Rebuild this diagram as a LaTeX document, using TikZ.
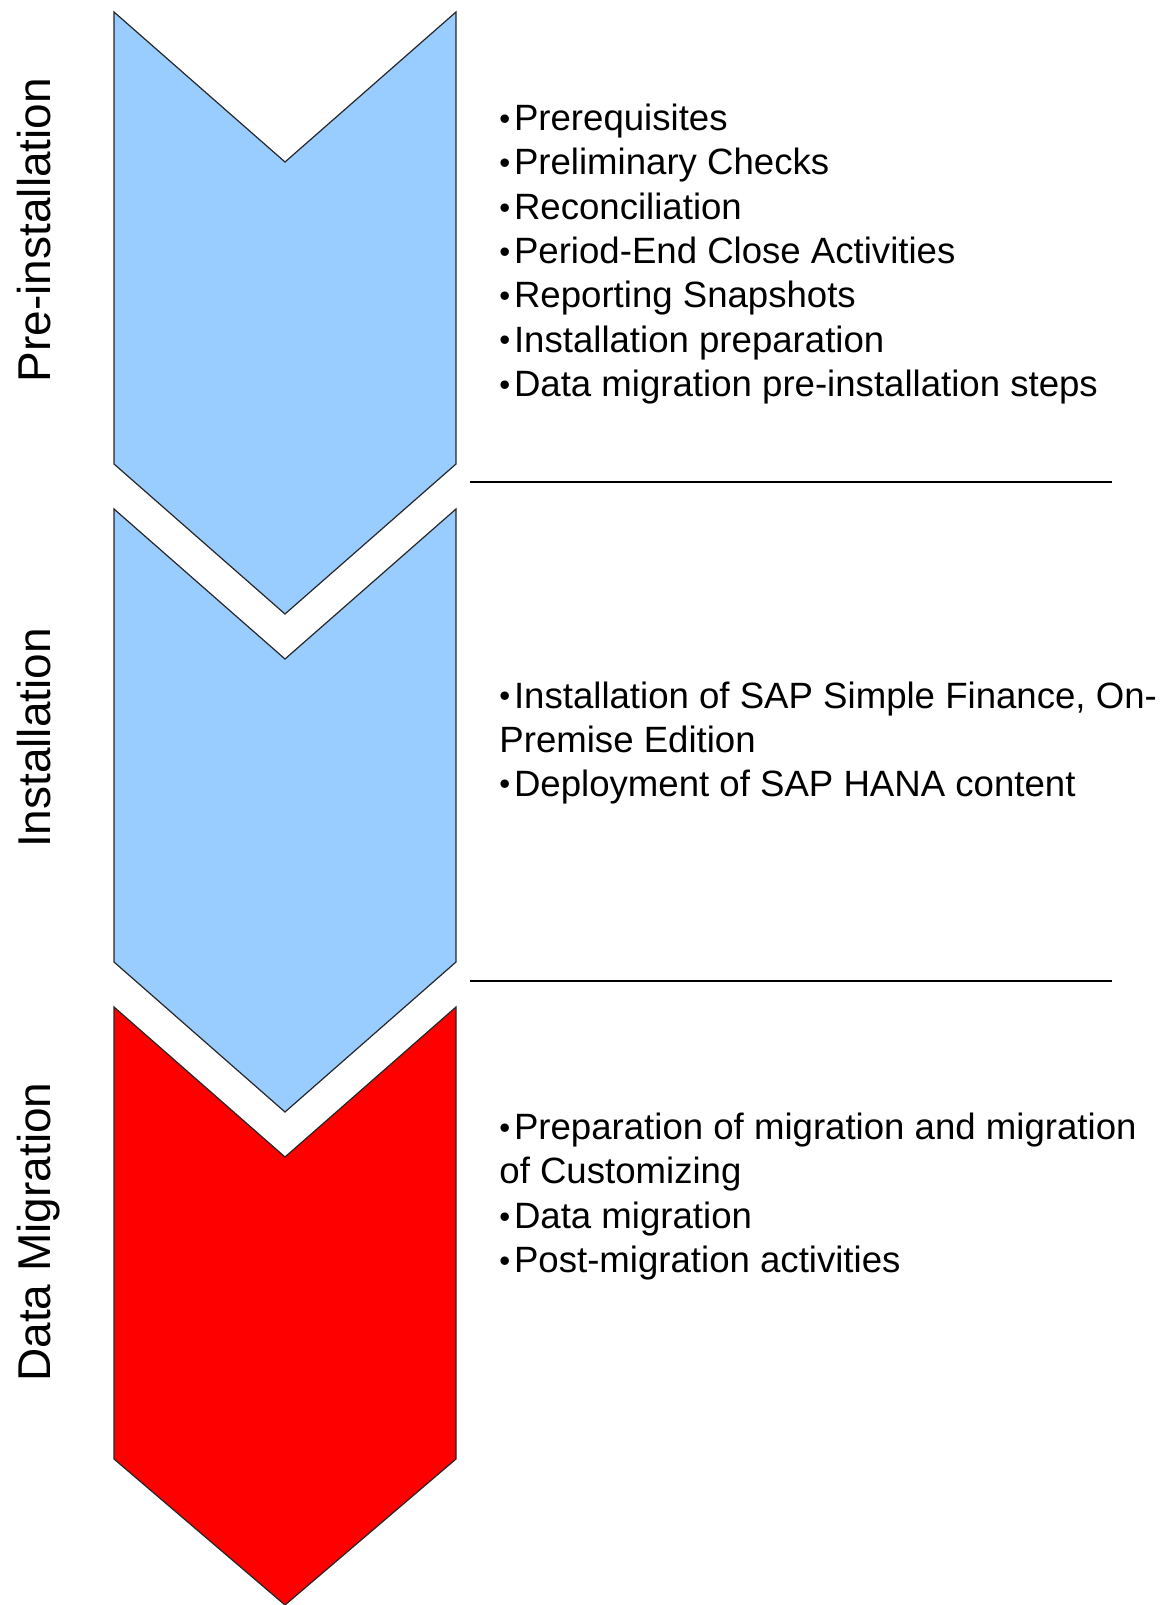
\documentclass[tikz,border=0pt]{standalone}
\usepackage{fontspec}
\setmainfont{Liberation Sans}
\definecolor{stageblue}{HTML}{99CCFF}
\definecolor{stagered}{HTML}{FF0000}
\newcommand{\bul}{\makebox[0.4em][l]{\raisebox{0.03em}{\scalebox{0.85}{•}}}}
\tikzset{
  stage/.style={draw=black!85, line width=0.6pt, line join=miter},
  item/.style={anchor=base west, inner sep=0pt, font=\fontsize{18.3}{22}\selectfont},
  phase/.style={anchor=base, inner sep=0pt, rotate=90, font=\fontsize{23}{28}\selectfont},
  sep/.style={line width=0.7pt}
}
\begin{document}
\begin{tikzpicture}[x=0.5pt, y=-0.5pt]
\useasboundingbox (0,0) rectangle (1171,1605);
% the three stages
\draw[stage,fill=stageblue](114,12)--(285,162)--(456,12)--(456,464)--(285,614)--(114,464)--cycle;
\draw[stage,fill=stageblue](114,509)--(285,659)--(456,509)--(456,962)--(285,1112)--(114,962)--cycle;
\draw[stage,fill=stagered](114,1007)--(285,1157)--(456,1007)--(456,1459)--(285,1605)--(114,1459)--cycle;
% phase names
\node[phase] (lblpre) at (50,230) {Pre-installation};
\node[phase] (lblins) at (50,738) {Installation};
\node[phase] (lblmig) at (50,1232) {Data Migration};
% steps of each phase
\node[item] (pre1) at (499,130.5) {\bul Prerequisites};
\node[item] (pre2) at (499,174.8) {\bul Preliminary Checks};
\node[item] (pre3) at (499,219.1) {\bul Reconciliation};
\node[item] (pre4) at (499,263.4) {\bul Period-End Close Activities};
\node[item] (pre5) at (499,307.7) {\bul Reporting Snapshots};
\node[item] (pre6) at (499,352) {\bul Installation preparation};
\node[item] (pre7) at (499,396.3) {\bul Data migration pre-installation steps};
\node[item] (ins1) at (499,708) {\bul Installation of SAP Simple Finance, On-};
\node[item] (ins2) at (499,752) {Premise Edition};
\node[item] (ins3) at (499,796) {\bul Deployment of SAP HANA content};
\node[item] (mig1) at (499,1139.5) {\bul Preparation of migration and migration};
\node[item] (mig2) at (499,1183.8) {of Customizing};
\node[item] (mig3) at (499,1228.1) {\bul Data migration};
\node[item] (mig4) at (499,1272.4) {\bul Post-migration activities};
% separators
\coordinate (sepa1) at (470,482);
\coordinate (sepa2) at (1112,482);
\coordinate (sepb1) at (470,981);
\coordinate (sepb2) at (1112,981);
\draw[sep](sepa1)--(sepa2);
\draw[sep](sepb1)--(sepb2);
\end{tikzpicture}
\end{document}
